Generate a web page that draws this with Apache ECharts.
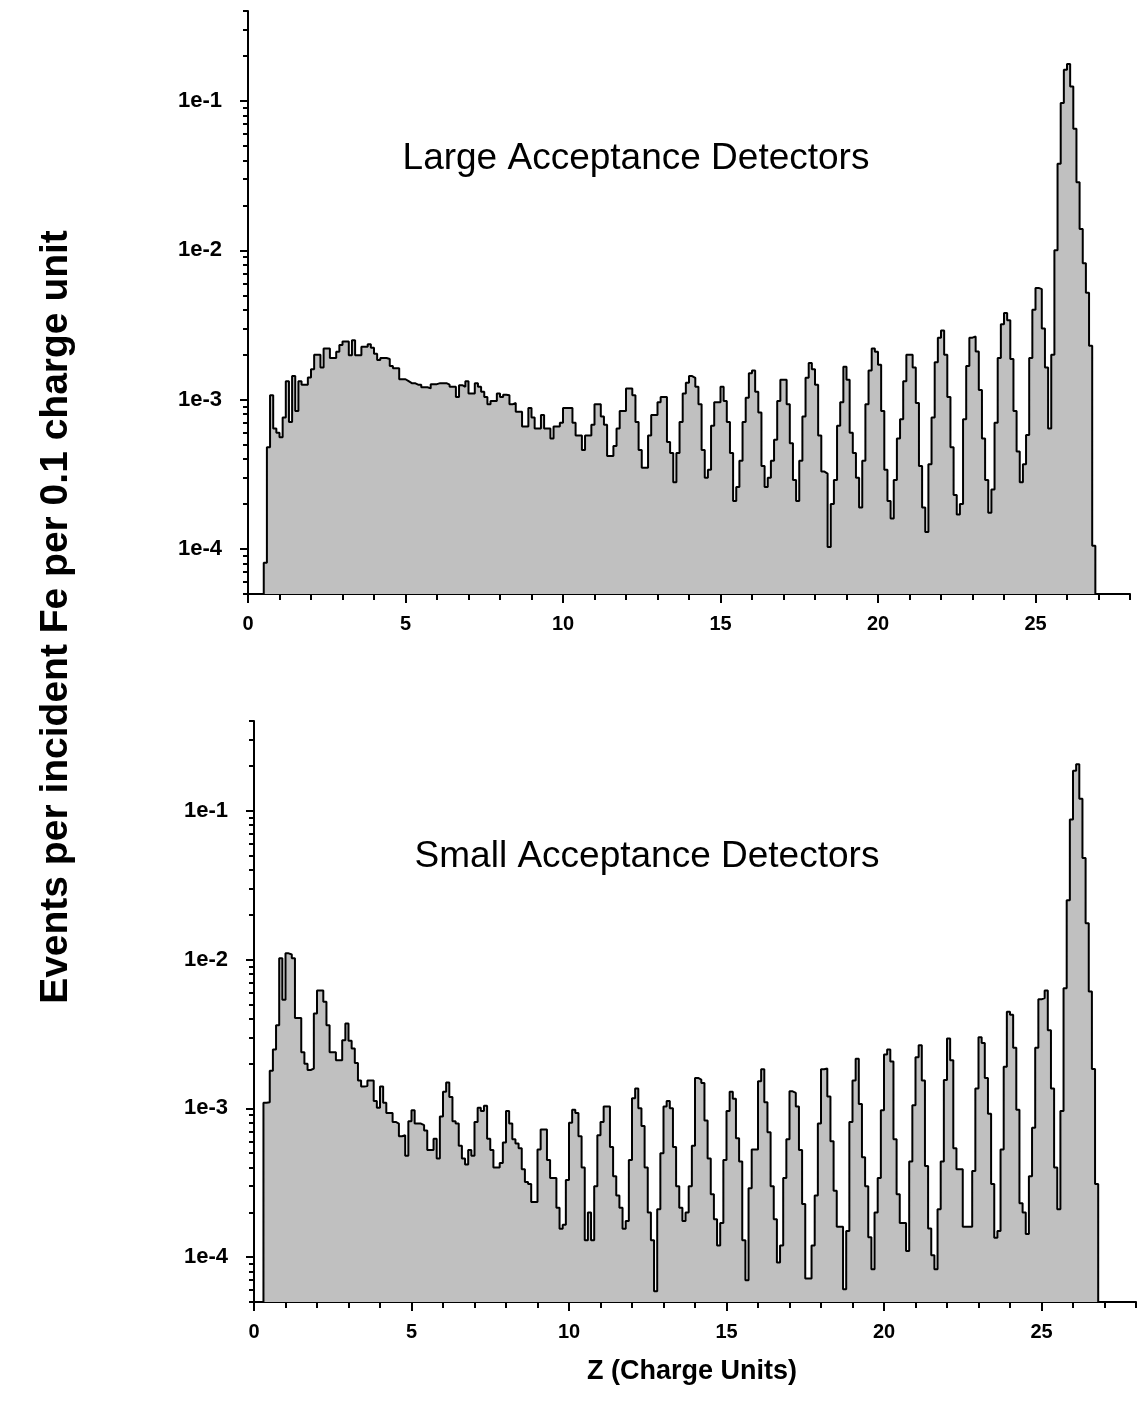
<!DOCTYPE html>
<html><head><meta charset="utf-8">
<script src="https://cdn.jsdelivr.net/npm/echarts@6/dist/echarts.min.js"></script>
<style>html,body{margin:0;padding:0;background:#fff}#c{width:1138px;height:1424px}</style>
</head><body><div id="c"></div>
<script>
// ---- data (Z bins of 0.1 charge unit) ----
const BIN_WIDTH = 0.1;
const TOP_START_Z = 0.5;
const BOTTOM_START_Z = 0.3;
const TOP_VALUES = [
 8.1e-5, 4.8e-4, 1.07e-3, 6.4e-4, 6.0e-4, 5.6e-4, 7.6e-4, 1.33e-3, 7.1e-4, 1.44e-3,
 8.4e-4, 1.33e-3, 1.26e-3, 1.26e-3, 1.41e-3, 1.6e-3, 2.0e-3, 2.0e-3, 1.64e-3, 2.2e-3,
 2.2e-3, 1.9e-3, 1.9e-3, 2.09e-3, 2.32e-3, 2.45e-3, 2.45e-3, 1.98e-3, 2.5e-3, 1.98e-3,
 1.98e-3, 2.26e-3, 2.26e-3, 2.35e-3, 2.23e-3, 2.03e-3, 1.84e-3, 1.9e-3, 1.9e-3, 1.87e-3,
 1.68e-3, 1.62e-3, 1.62e-3, 1.37e-3, 1.37e-3, 1.33e-3, 1.29e-3, 1.29e-3, 1.26e-3, 1.26e-3,
 1.21e-3, 1.21e-3, 1.19e-3, 1.27e-3, 1.27e-3, 1.29e-3, 1.29e-3, 1.29e-3, 1.26e-3, 1.22e-3,
 1.22e-3, 1.04e-3, 1.25e-3, 1.22e-3, 1.33e-3, 1.10e-3, 1.10e-3, 1.29e-3, 1.22e-3, 1.13e-3,
 1.04e-3, 9.3e-4, 9.8e-4, 9.8e-4, 1.1e-3, 1.04e-3, 1.08e-3, 1.07e-3, 9.3e-4, 9.5e-4,
 8.3e-4, 8.3e-4, 6.6e-4, 6.6e-4, 8.8e-4, 7.6e-4, 6.4e-4, 6.4e-4, 7.9e-4, 6.4e-4,
 6.4e-4, 5.5e-4, 6.6e-4, 6.6e-4, 7.0e-4, 8.8e-4, 8.8e-4, 8.8e-4, 7.0e-4, 5.75e-4,
 5.75e-4, 4.6e-4, 5.75e-4, 5.75e-4, 6.8e-4, 9.3e-4, 9.3e-4, 7.7e-4, 6.8e-4, 4.2e-4,
 4.2e-4, 4.9e-4, 6.4e-4, 8.4e-4, 8.4e-4, 1.19e-3, 1.19e-3, 1.07e-3, 7.1e-4, 4.6e-4,
 3.5e-4, 3.5e-4, 5.75e-4, 7.9e-4, 7.9e-4, 9.6e-4, 1.04e-3, 1.04e-3, 5.2e-4, 4.4e-4,
 2.8e-4, 4.4e-4, 7.1e-4, 1.1e-3, 1.3e-3, 1.44e-3, 1.4e-3, 1.22e-3, 9.3e-4, 4.6e-4,
 3.0e-4, 3.4e-4, 6.7e-4, 9.6e-4, 9.6e-4, 1.22e-3, 9.8e-4, 7.1e-4, 4.4e-4, 2.1e-4,
 2.6e-4, 3.9e-4, 7.1e-4, 1.03e-3, 1.5e-3, 1.57e-3, 1.13e-3, 8.2e-4, 3.6e-4, 2.6e-4,
 3.0e-4, 3.9e-4, 5.4e-4, 9.8e-4, 1.36e-3, 1.36e-3, 9.3e-4, 5.1e-4, 2.9e-4, 2.1e-4,
 3.9e-4, 7.7e-4, 1.4e-3, 1.76e-3, 1.6e-3, 1.26e-3, 5.75e-4, 3.3e-4, 3.2e-4, 1.03e-4,
 2.0e-4, 2.9e-4, 6.7e-4, 9.6e-4, 1.66e-3, 1.36e-3, 6.0e-4, 4.4e-4, 3.0e-4, 1.9e-4,
 3.9e-4, 9.3e-4, 1.57e-3, 2.2e-3, 2.09e-3, 1.71e-3, 8.4e-4, 3.4e-4, 2.1e-4, 1.6e-4,
 2.9e-4, 5.5e-4, 7.4e-4, 1.33e-3, 2.0e-3, 2.0e-3, 1.64e-3, 9.5e-4, 3.6e-4, 1.9e-4,
 1.3e-4, 3.7e-4, 7.6e-4, 1.78e-3, 2.6e-3, 2.9e-3, 2.0e-3, 1.04e-3, 4.8e-4, 2.3e-4,
 1.7e-4, 2.0e-4, 7.4e-4, 1.68e-3, 2.6e-3, 2.65e-3, 2.1e-3, 1.16e-3, 5.5e-4, 2.9e-4,
 1.75e-4, 2.5e-4, 7.0e-4, 1.9e-3, 3.2e-3, 3.8e-3, 3.4e-3, 1.87e-3, 8.4e-4, 4.5e-4,
 2.8e-4, 3.7e-4, 5.8e-4, 1.9e-3, 4.0e-3, 5.6e-3, 5.5e-3, 3.0e-3, 1.64e-3, 6.4e-4,
 2.0e-3, 1.0e-2, 3.8e-2, 9.7e-2, 0.162, 0.177, 0.125, 0.065, 0.0286, 0.0139,
 8.2e-3, 5.2e-3, 2.3e-3, 1.05e-4
];
const BOTTOM_VALUES = [
 1.09e-3, 1.1e-3, 1.79e-3, 2.48e-3, 3.62e-3, 1.02e-2, 5.36e-3, 1.10e-2, 1.08e-2, 1.02e-2,
 4.04e-3, 4.04e-3, 2.38e-3, 1.99e-3, 1.81e-3, 1.85e-3, 4.34e-3, 6.2e-3, 6.2e-3, 5.2e-3,
 3.62e-3, 2.38e-3, 2.38e-3, 2.1e-3, 2.1e-3, 2.87e-3, 3.72e-3, 2.84e-3, 2.52e-3, 2.02e-3,
 1.54e-3, 1.40e-3, 1.41e-3, 1.54e-3, 1.54e-3, 1.12e-3, 1.01e-3, 1.40e-3, 1.09e-3, 9.3e-4,
 9.3e-4, 8.1e-4, 7.9e-4, 6.5e-4, 6.6e-4, 4.8e-4, 8.2e-4, 9.7e-4, 7.9e-4, 7.9e-4,
 7.7e-4, 7.1e-4, 5.25e-4, 5.25e-4, 6.25e-4, 4.6e-4, 8.8e-4, 1.29e-3, 1.49e-3, 1.19e-3,
 8.2e-4, 7.9e-4, 5.6e-4, 4.6e-4, 4.2e-4, 5.25e-4, 4.8e-4, 8.1e-4, 1.01e-3, 9.6e-4,
 1.04e-3, 6.25e-4, 5.25e-4, 4.0e-4, 4.0e-4, 4.3e-4, 5.9e-4, 9.6e-4, 7.9e-4, 6.2e-4,
 5.8e-4, 5.4e-4, 3.9e-4, 3.2e-4, 3.1e-4, 2.35e-4, 2.35e-4, 5.3e-4, 7.2e-4, 7.2e-4,
 4.5e-4, 3.4e-4, 3.4e-4, 2.15e-4, 1.55e-4, 1.65e-4, 3.3e-4, 8.0e-4, 9.8e-4, 9.3e-4,
 6.5e-4, 4.0e-4, 1.3e-4, 2.0e-4, 1.3e-4, 3.0e-4, 6.6e-4, 8.1e-4, 1.03e-3, 1.03e-3,
 5.5e-4, 3.5e-4, 2.6e-4, 2.15e-4, 1.55e-4, 1.75e-4, 4.5e-4, 1.17e-3, 1.36e-3, 1.0e-3,
 7.6e-4, 4.0e-4, 2.0e-4, 1.3e-4, 5.9e-5, 2.1e-4, 5.0e-4, 1.03e-3, 1.12e-3, 1.0e-3,
 5.5e-4, 3.0e-4, 2.15e-4, 1.75e-4, 2.0e-4, 3.0e-4, 5.6e-4, 1.6e-3, 1.56e-3, 1.48e-3,
 8.3e-4, 4.6e-4, 2.65e-4, 1.8e-4, 1.2e-4, 1.7e-4, 4.5e-4, 9.6e-4, 1.29e-3, 1.16e-3,
 6.3e-4, 4.4e-4, 1.3e-4, 7.0e-5, 2.9e-4, 5.3e-4, 5.3e-4, 1.52e-3, 1.83e-3, 1.1e-3,
 6.9e-4, 3.0e-4, 1.8e-4, 9.2e-5, 1.2e-4, 3.4e-4, 6.2e-4, 1.3e-3, 1.27e-3, 1.03e-3,
 5.25e-4, 2.28e-4, 7.2e-5, 7.2e-5, 1.2e-4, 2.6e-4, 7.9e-4, 1.83e-3, 1.85e-3, 1.2e-3,
 6.0e-4, 2.8e-4, 1.6e-4, 1.6e-4, 6.1e-5, 1.5e-4, 8.1e-4, 1.54e-3, 2.15e-3, 1.07e-3,
 4.7e-4, 3.0e-4, 1.36e-4, 8.3e-5, 2.0e-4, 3.4e-4, 9.7e-4, 2.3e-3, 2.48e-3, 2.06e-3,
 6.2e-4, 2.65e-4, 1.7e-4, 1.7e-4, 1.1e-4, 4.4e-4, 1.05e-3, 2.2e-3, 2.65e-3, 1.54e-3,
 4.1e-4, 1.56e-4, 1.03e-4, 8.3e-5, 2.1e-4, 4.4e-4, 1.55e-3, 2.95e-3, 2.1e-3, 5.4e-4,
 3.9e-4, 3.9e-4, 1.6e-4, 1.6e-4, 1.6e-4, 3.8e-4, 1.36e-3, 3.0e-3, 2.75e-3, 1.6e-3,
 9.2e-4, 3.1e-4, 1.35e-4, 1.5e-4, 5.3e-4, 1.9e-3, 4.45e-3, 4.25e-3, 2.55e-3, 9.8e-4,
 2.3e-4, 2.0e-4, 1.43e-4, 3.5e-4, 7.4e-4, 2.55e-3, 5.4e-3, 5.5e-3, 6.2e-3, 3.35e-3,
 1.36e-3, 4.0e-4, 2.1e-4, 9.6e-4, 6.4e-3, 2.5e-2, 8.7e-2, 0.185, 0.205, 0.12,
 0.048, 0.0175, 6.1e-3, 1.84e-3, 3.1e-4
];
const X_TICK_LABELS = [0, 5, 10, 15, 20, 25];
const Y_TICK_LABELS = [1e-4, 1e-3, 1e-2, 1e-1];
const TOP_TITLE = 'Large Acceptance Detectors';
const BOTTOM_TITLE = 'Small Acceptance Detectors';
const Y_TITLE = 'Events per incident Fe per 0.1 charge unit';
const X_TITLE = 'Z (Charge Units)';
const X_MIN = 0, X_MAX = 28, Y_MIN = 5e-5, Y_MAX = 0.4;

// ---- build ----
function stepData(start, values) {
  const pts = [[start, Y_MIN]];
  values.forEach((v, i) => pts.push([+(start + i * BIN_WIDTH).toFixed(2), v]));
  const end = +(start + values.length * BIN_WIDTH).toFixed(2);
  pts.push([end, values[values.length - 1]]);
  pts.push([end, Y_MIN]);
  return pts;
}
const minorY = [];
for (let e = -5; e <= -1; e++) for (let k = 1; k <= 9; k++) {
  const v = +(k * Math.pow(10, e)).toPrecision(3);
  if (v >= Y_MIN && v <= Y_MAX) minorY.push(v);
}
const BLACK = '#000';
const xTickFont = { fontFamily: 'Liberation Sans', fontWeight: 'bold', fontSize: 20, color: BLACK };
const yTickFont = { fontFamily: 'Liberation Sans', fontWeight: 'bold', fontSize: 22, color: BLACK };
const grids = [
  { left: 248, top: 11, width: 882, height: 583 },
  { left: 254, top: 721, width: 882, height: 581 }
];
const xAxes = [], yAxes = [], series = [];
grids.forEach((g, gi) => {
  xAxes.push({
    gridIndex: gi, type: 'value', min: X_MIN, max: X_MAX, interval: 1, position: 'bottom',
    axisLine: { show: true, onZero: false, lineStyle: { color: BLACK, width: 2 } },
    axisTick: { show: true, length: 6, lineStyle: { color: BLACK, width: 2 } },
    axisLabel: { show: false }, splitLine: { show: false }
  });
  xAxes.push({
    gridIndex: gi, type: 'value', min: X_MIN, max: X_MAX, interval: 5, position: 'bottom',
    axisLine: { show: false, onZero: false },
    axisTick: { show: true, customValues: X_TICK_LABELS, length: 9, lineStyle: { color: BLACK, width: 2 } },
    axisLabel: Object.assign({ customValues: X_TICK_LABELS, margin: 20 }, xTickFont),
    splitLine: { show: false }
  });
  yAxes.push({
    gridIndex: gi, type: 'log', logBase: 10, min: Y_MIN, max: Y_MAX, position: 'left',
    axisLine: { show: true, onZero: false, lineStyle: { color: BLACK, width: 2 } },
    axisTick: { show: true, customValues: minorY, length: 5, lineStyle: { color: BLACK, width: 2 } },
    axisLabel: { show: false }, splitLine: { show: false }, minorTick: { show: false }
  });
  yAxes.push({
    gridIndex: gi, type: 'log', logBase: 10, min: Y_MIN, max: Y_MAX, position: 'left',
    axisLine: { show: false, onZero: false },
    axisTick: { show: true, customValues: Y_TICK_LABELS, length: 8, lineStyle: { color: BLACK, width: 2 } },
    axisLabel: Object.assign({
      customValues: Y_TICK_LABELS, margin: 26,
      formatter: v => '1e' + Math.round(Math.log10(v))
    }, yTickFont),
    splitLine: { show: false }
  });
  series.push({
    type: 'line', xAxisIndex: gi * 2, yAxisIndex: gi * 2, step: 'end', symbol: 'none',
    data: stepData(gi === 0 ? TOP_START_Z : BOTTOM_START_Z, gi === 0 ? TOP_VALUES : BOTTOM_VALUES),
    lineStyle: { color: BLACK, width: 2 },
    areaStyle: { color: '#c0c0c0', opacity: 1, origin: 'start' },
    silent: true, animation: false
  });
});

function txt(text, x, y, font, rot) {
  return {
    type: 'text', x: x, y: y, rotation: rot || 0,
    style: { text: text, font: font, fill: BLACK, align: 'center', verticalAlign: 'middle',
             textAlign: 'center', textVerticalAlign: 'middle' }
  };
}
const chart = echarts.init(document.getElementById('c'), null, { renderer: 'canvas' });
chart.setOption({
  backgroundColor: '#fff',
  animation: false,
  grid: grids.map(g => Object.assign({ outerBoundsMode: 'none', containLabel: false }, g)),
  xAxis: xAxes,
  yAxis: yAxes,
  series: series,
  graphic: [
    txt(TOP_TITLE, 636, 159, '37px "Liberation Sans"'),
    txt(BOTTOM_TITLE, 647, 857, '37px "Liberation Sans"'),
    txt(Y_TITLE, 56, 617, 'bold 39px "Liberation Sans"', Math.PI / 2),
    txt(X_TITLE, 692, 1372, 'bold 27px "Liberation Sans"')
  ]
});
</script></body></html>
